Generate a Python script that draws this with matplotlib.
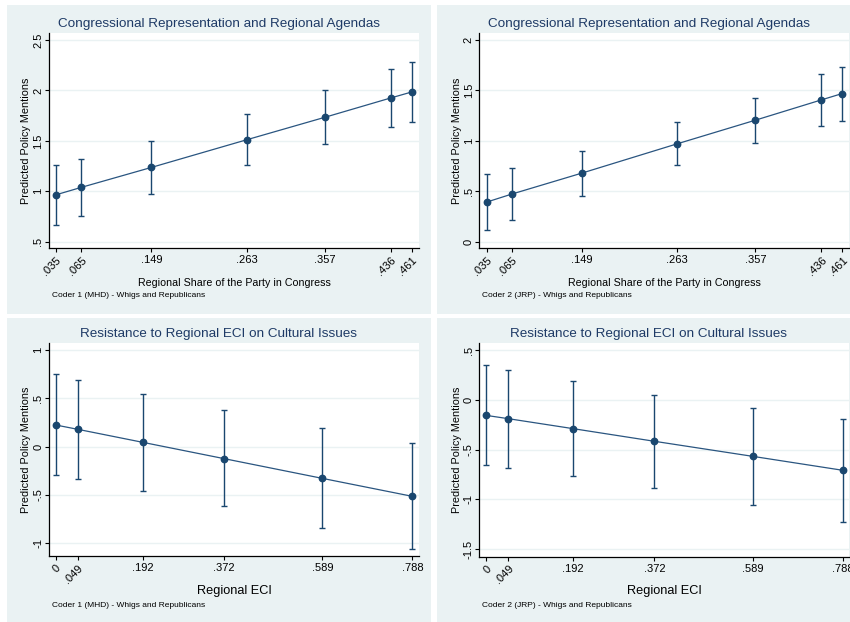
import matplotlib
matplotlib.use("Agg")
import matplotlib.pyplot as plt
from matplotlib.patches import Rectangle

plt.rcParams['font.family'] = ['Liberation Sans', 'DejaVu Sans']

# ---------------- data ----------------
share_x = [0.035, 0.065, 0.149, 0.263, 0.357, 0.436, 0.461]
share_labels = [".035", ".065", ".149", ".263", ".357", ".436", ".461"]
share_rot = [45, 45, 0, 0, 0, 45, 45]

c1_share_est = [0.965, 1.038, 1.236, 1.510, 1.734, 1.926, 1.985]
c1_share_lo = [0.668, 0.757, 0.975, 1.259, 1.467, 1.635, 1.682]
c1_share_hi = [1.256, 1.318, 1.497, 1.764, 2.002, 2.216, 2.285]

c2_share_est = [0.393, 0.472, 0.680, 0.970, 1.205, 1.406, 1.469]
c2_share_lo = [0.119, 0.215, 0.452, 0.759, 0.977, 1.149, 1.201]
c2_share_hi = [0.667, 0.729, 0.904, 1.182, 1.429, 1.663, 1.736]

eci_x = [0.0, 0.049, 0.192, 0.372, 0.589, 0.788]
eci_labels = ["0", ".049", ".192", ".372", ".589", ".788"]
eci_rot = [45, 45, 0, 0, 0, 0]

c1_eci_est = [0.224, 0.179, 0.045, -0.124, -0.328, -0.514]
c1_eci_lo = [-0.293, -0.334, -0.455, -0.617, -0.838, -1.062]
c1_eci_hi = [0.748, 0.693, 0.545, 0.376, 0.190, 0.038]

c2_eci_est = [-0.156, -0.189, -0.289, -0.416, -0.567, -0.707]
c2_eci_lo = [-0.654, -0.681, -0.764, -0.888, -1.052, -1.222]
c2_eci_hi = [0.346, 0.299, 0.189, 0.052, -0.085, -0.192]

yt1 = [0.5, 1, 1.5, 2, 2.5]; yl1 = [".5", "1", "1.5", "2", "2.5"]
yt2 = [0, 0.5, 1, 1.5, 2]; yl2 = ["0", ".5", "1", "1.5", "2"]
yt3 = [-1, -0.5, 0, 0.5, 1]; yl3 = ["-1", "-.5", "0", ".5", "1"]
yt4 = [-1.5, -1, -0.5, 0, 0.5]; yl4 = ["-1.5", "-1", "-.5", "0", ".5"]

title_top = "Congressional Representation and Regional Agendas"
title_bot = "Resistance to Regional ECI on Cultural Issues"
xlab_top = "Regional Share of the Party in Congress"
xlab_bot = "Regional ECI"
ylab = "Predicted Policy Mentions"
note1 = "Coder 1 (MHD) - Whigs and Republicans"
note2 = "Coder 2 (JRP) - Whigs and Republicans"

# ---------------- style ----------------
W, H = 850, 622
BG = "#EAF2F3"
NAVY = "#1A476F"
TITLE_C = "#1E3A66"

fig = plt.figure(figsize=(W / 100, H / 100), dpi=100)
fig.patch.set_facecolor("white")


def fx(px):
    return px / W


def fy(py):
    return 1 - py / H


def panel(bg_box, ax_box, title, title_y, xs, xlabels, xrot, xlim,
          est, lo, hi, yt, yl, ylim, xlab, xlab_y, xlab_size, note, note_x, note_y):
    x0, y0, x1, y1 = bg_box
    fig.patches.append(Rectangle((fx(x0), fy(y1)), fx(x1 - x0), (y1 - y0) / H,
                                 transform=fig.transFigure, facecolor=BG,
                                 edgecolor="none", zorder=-5))
    ax0, ay0, ax1, ay1 = ax_box
    ax = fig.add_axes([fx(ax0), fy(ay1), fx(ax1 - ax0), (ay1 - ay0) / H])
    ax.set_zorder(1)
    ax.set_facecolor("white")
    yerr = [[e - l for e, l in zip(est, lo)], [h - e for e, h in zip(est, hi)]]
    ax.errorbar(xs, est, yerr=yerr, fmt="none", ecolor=NAVY, elinewidth=1.0,
                capsize=2.4, capthick=1.0, zorder=3)
    ax.plot(xs, est, color="#2A5580", lw=0.9, zorder=4)
    ax.plot(xs, est, "o", color=NAVY, ms=4.6, zorder=5)
    ax.set_xlim(*xlim)
    ax.set_ylim(*ylim)
    ax.set_yticks(yt)
    ax.set_yticklabels(yl, rotation=90, va="center", fontsize=8)
    ax.set_xticks(xs)
    ax.set_xticklabels(xlabels, fontsize=8)
    for lab, r in zip(ax.get_xticklabels(), xrot):
        if r:
            lab.set_rotation(r)
            lab.set_ha("right")
            lab.set_va("top")
            lab.set_rotation_mode("anchor")
    ax.tick_params(axis="both", direction="out", length=3.2, width=0.8,
                   color="black", labelcolor="black")
    ax.tick_params(axis="y", pad=0.8)
    ax.tick_params(axis="x", pad=1.8)
    ax.grid(axis="y", color=BG, lw=1.0)
    ax.set_axisbelow(True)
    for s in ["top", "right"]:
        ax.spines[s].set_visible(False)
    for s in ["left", "bottom"]:
        ax.spines[s].set_color("black")
        ax.spines[s].set_linewidth(0.9)
    ax.set_ylabel(ylab, fontsize=7.8, labelpad=1.5)
    fig.text(fx((x0 + x1) / 2), fy(title_y), title, ha="center", va="center",
             fontsize=9.7, color=TITLE_C)
    fig.text(fx((ax0 + ax1) / 2), fy(xlab_y), xlab, ha="center", va="center",
             fontsize=xlab_size, color="black")
    fig.text(fx(note_x), fy(note_y), note, ha="left", va="center",
             fontsize=6.0, color="black")
    return ax


panel((7, 5, 431, 314), (49, 33, 419, 248), title_top, 24.5,
      share_x, share_labels, share_rot, (0.0266, 0.4694),
      c1_share_est, c1_share_lo, c1_share_hi, yt1, yl1, (0.4375, 2.569),
      xlab_top, 282.5, 7.7, note1, 52, 295.5)

panel((437, 5, 861, 314), (479.3, 33, 849.3, 248), title_top, 24.5,
      share_x, share_labels, share_rot, (0.0261, 0.4694),
      c2_share_est, c2_share_lo, c2_share_hi, yt2, yl2, (-0.0625, 2.069),
      xlab_top, 282.5, 7.7, note2, 482, 295.5)

panel((7, 318, 431, 622), (49, 343, 419, 556), title_bot, 334.5,
      eci_x, eci_labels, eci_rot, (-0.0148, 0.8026),
      c1_eci_est, c1_eci_lo, c1_eci_hi, yt3, yl3, (-1.131, 1.072),
      xlab_bot, 591, 9.2, note1, 52, 605.5)

panel((437, 318, 861, 622), (479.3, 343, 849.3, 556.7), title_bot, 334.5,
      eci_x, eci_labels, eci_rot, (-0.0148, 0.8026),
      c2_eci_est, c2_eci_lo, c2_eci_hi, yt4, yl4, (-1.574, 0.570),
      xlab_bot, 591, 9.2, note2, 482, 605.5)

fig.savefig("out.png", dpi=100, facecolor="white")
